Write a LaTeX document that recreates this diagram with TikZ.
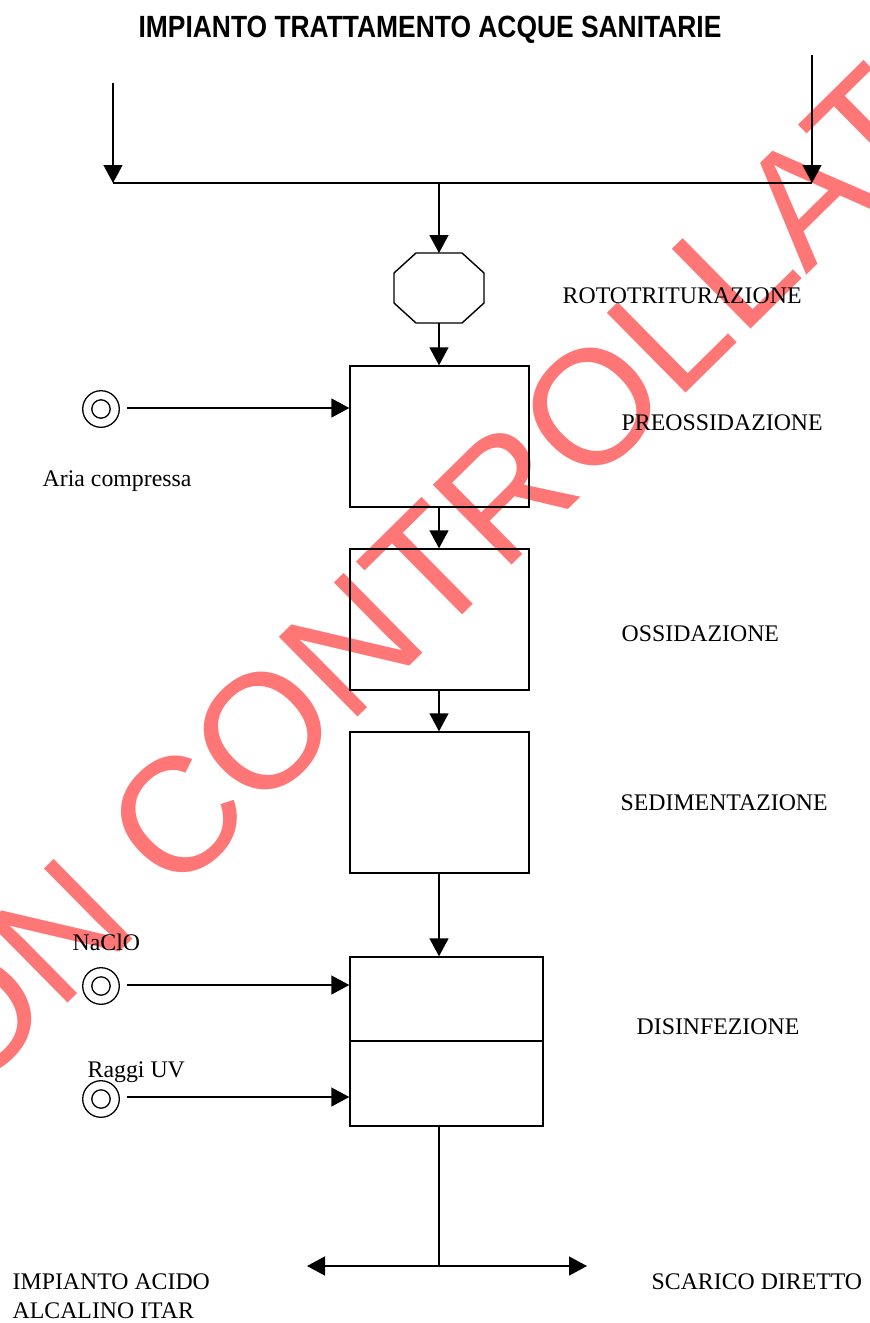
\documentclass[tikz,border=0pt]{standalone}
\usepackage{fontspec}
\setmainfont{Liberation Serif}
\newfontfamily\titlefam{Liberation Sans}
\newfontfamily\wmfam{Liberation Sans}
\usetikzlibrary{arrows.meta}
\definecolor{wmred}{RGB}{255,118,118}
\begin{document}
\begin{tikzpicture}[x=1pt,y=-1pt,
  line width=1.4pt,
  arr/.style={-{Triangle[width=19pt,length=18pt]}},
  dblarr/.style={{Triangle[width=19pt,length=18pt]}-{Triangle[width=19pt,length=18pt]}},
  box/.style={draw,rectangle,inner sep=0pt},
  lbl/.style={anchor=base west,inner sep=0pt,font=\fontsize{23.8}{28}\selectfont},
  ring/.style={draw,circle,inner sep=0pt,minimum size=36.6pt,line width=1.3pt},
  ringin/.style={draw,circle,inner sep=0pt,minimum size=18.4pt,line width=1.3pt}]
\useasboundingbox (0,0) rectangle (870,1323);
% watermark
\node[rotate=44.6,inner sep=0pt,text=wmred,font=\wmfam\fontsize{163}{170}\selectfont] (wm) at (410,587) {NON CONTROLLATA};
% title
\node[anchor=base,inner sep=0pt,font=\titlefam\bfseries\fontsize{30.7}{34}\selectfont] (title) at (430,37) {\scalebox{0.86}[1]{IMPIANTO TRATTAMENTO ACQUE SANITARIE}};
% top inflows
\coordinate (inL) at (113,83);
\coordinate (inR) at (812,55);
\coordinate (busL) at (113,183);
\coordinate (busR) at (812,183);
\coordinate (busC) at (439,183);
\draw[arr] (inL) -- (busL);
\draw[arr] (inR) -- (busR);
\draw[line width=2pt] (busL) -- (busR);
% octagon
\path (439,288) coordinate (octc);
\draw (416,253) -- (462,253) -- (484,273) -- (484,303) -- (462,323) -- (416,323) -- (394,303) -- (394,273) -- cycle;
\coordinate (octN) at (439,253);
\coordinate (octS) at (439,323);
\draw[arr] (busC) -- (octN);
% boxes
\node[box,minimum width=179pt,minimum height=141pt] (b1) at (439.5,436.5) {};
\node[box,minimum width=179pt,minimum height=141pt] (b2) at (439.5,619.5) {};
\node[box,minimum width=179pt,minimum height=141pt] (b3) at (439.5,802.5) {};
\node[box,minimum width=193pt,minimum height=84pt] (b4) at (446.5,999) {};
\node[box,minimum width=193pt,minimum height=85pt] (b5) at (446.5,1083.5) {};
\draw[arr] (octS) -- (octS |- b1.north);
\draw[arr] (octS |- b1.south) -- (octS |- b2.north);
\draw[arr] (octS |- b2.south) -- (octS |- b3.north);
\draw[arr] (octS |- b3.south) -- (octS |- b4.north);
% outflow
\coordinate (outJ) at (439,1266);
\coordinate (outL) at (307,1266);
\coordinate (outR) at (587,1266);
\draw (octS |- b5.south) -- (outJ);
\draw[dblarr] (outL) -- (outR);
% feeds
\node[ring] (r1) at (101,409) {};
\node[ringin] at (r1) {};
\node[ring] (r2) at (101,986) {};
\node[ringin] at (r2) {};
\node[ring] (r3) at (101,1099) {};
\node[ringin] at (r3) {};
\draw[arr] (127,408) -- (b1.west |- 0,408);
\draw[arr] (127,985) -- (b4.west |- 0,985);
\draw[arr] (127,1097) -- (b5.west |- 0,1097);
% labels
\node[lbl] (l1) at (562,303) {ROTOTRITURAZIONE};
\node[lbl] (l2) at (621,430) {PREOSSIDAZIONE};
\node[lbl] (l3) at (621,641) {OSSIDAZIONE};
\node[lbl] (l4) at (620,810) {SEDIMENTAZIONE};
\node[lbl] (l5) at (636,1034) {DISINFEZIONE};
\node[lbl] (l6) at (42,486) {Aria compressa};
\node[lbl] (l7) at (72,950) {NaClO};
\node[lbl] (l8) at (87,1077) {Raggi UV};
\node[lbl] (l9) at (12,1289) {IMPIANTO ACIDO};
\node[lbl] (l10) at (12,1318) {ALCALINO ITAR};
\node[lbl] (l11) at (651,1289) {SCARICO DIRETTO};
\end{tikzpicture}
\end{document}
